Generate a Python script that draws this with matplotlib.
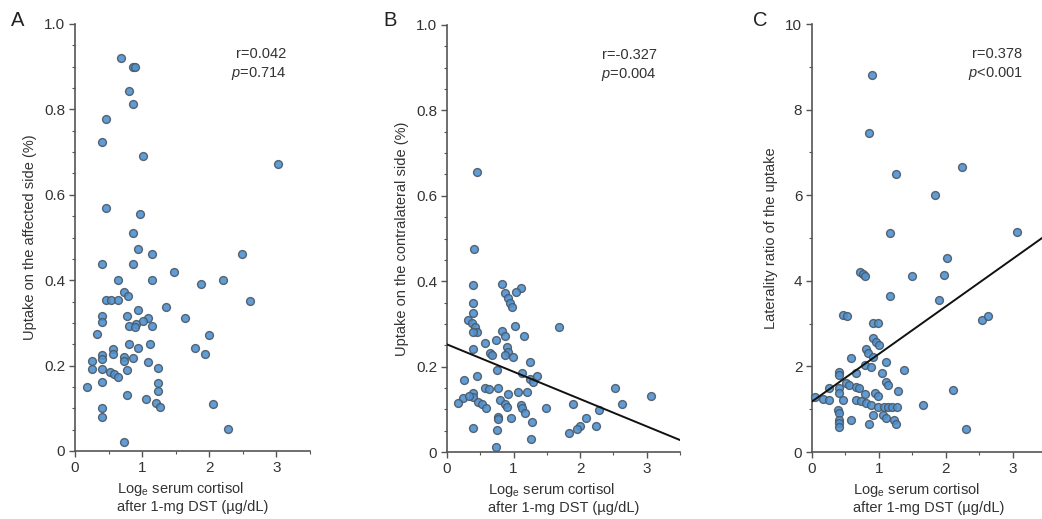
import numpy as np
import matplotlib
matplotlib.use('Agg')
import matplotlib.pyplot as plt
from matplotlib.ticker import MultipleLocator, FuncFormatter

plt.rcParams['font.family'] = ['Liberation Sans', 'DejaVu Sans']
plt.rcParams['mathtext.fontset'] = 'custom'
plt.rcParams['mathtext.it'] = 'Liberation Sans:italic'
plt.rcParams['mathtext.rm'] = 'Liberation Sans'

# ── 데이터 ─────────────────────────────────────────────
a_x = [0.68, 0.87, 0.90, 0.81, 0.87, 0.46, 0.40, 1.02, 3.02, 0.46, 0.97, 0.87, 0.94,
       1.15, 2.49, 0.40, 0.87, 1.47, 0.64, 1.15, 2.21, 1.87, 0.73, 0.79, 0.46, 0.54,
       0.64, 2.60, 1.35, 0.94, 0.40, 0.40, 0.78, 1.64, 1.08, 0.81, 0.91, 1.01, 1.15,
       0.89, 0.33, 2.00, 0.81, 0.57, 0.94, 1.11, 1.79, 1.94, 0.40, 0.40, 0.57, 0.73,
       0.73, 0.87, 1.08, 0.26, 0.26, 0.40, 0.52, 0.58, 0.64, 0.78, 1.23, 0.40, 1.23,
       0.18, 1.23, 0.78, 1.05, 1.21, 1.27, 2.06, 0.40, 0.40, 2.28, 0.73]
a_y = [0.920, 0.900, 0.900, 0.844, 0.813, 0.777, 0.724, 0.692, 0.673, 0.569, 0.556,
       0.511, 0.474, 0.461, 0.461, 0.438, 0.438, 0.420, 0.400, 0.400, 0.400, 0.390,
       0.373, 0.363, 0.354, 0.354, 0.354, 0.352, 0.338, 0.330, 0.316, 0.303, 0.315,
       0.311, 0.311, 0.293, 0.297, 0.305, 0.293, 0.290, 0.274, 0.272, 0.250, 0.240,
       0.242, 0.250, 0.242, 0.226, 0.225, 0.215, 0.227, 0.220, 0.210, 0.218, 0.209,
       0.210, 0.192, 0.192, 0.186, 0.180, 0.174, 0.190, 0.195, 0.162, 0.160, 0.150,
       0.140, 0.130, 0.121, 0.112, 0.102, 0.111, 0.100, 0.080, 0.051, 0.020]

b_x = [0.45, 0.40, 0.395, 0.83, 1.11, 1.04, 0.87, 0.92, 0.945, 0.97, 0.395, 0.395,
       0.32, 0.37, 0.42, 0.445, 0.395, 1.02, 0.83, 0.87, 1.15, 1.68, 0.57, 0.735,
       0.395, 0.895, 0.92, 0.645, 0.67, 0.87, 0.995, 1.245, 0.745, 0.26, 0.455, 1.12,
       1.245, 1.295, 1.345, 0.57, 0.635, 0.77, 0.92, 1.06, 1.195, 0.395, 0.395, 0.245,
       0.33, 0.17, 0.47, 0.52, 0.58, 0.795, 0.87, 0.895, 1.11, 1.13, 1.17, 1.485,
       0.77, 0.77, 0.96, 1.28, 0.395, 0.745, 1.26, 0.73, 1.89, 2.53, 2.63, 3.07,
       2.29, 2.09, 2.00, 1.95, 2.24, 1.83]
b_y = [0.656, 0.475, 0.391, 0.393, 0.383, 0.375, 0.372, 0.360, 0.348, 0.340, 0.350,
       0.325, 0.309, 0.303, 0.293, 0.282, 0.282, 0.295, 0.283, 0.272, 0.272, 0.292,
       0.255, 0.262, 0.241, 0.245, 0.235, 0.233, 0.227, 0.227, 0.222, 0.211, 0.192,
       0.169, 0.179, 0.184, 0.172, 0.165, 0.178, 0.149, 0.148, 0.149, 0.135, 0.141,
       0.141, 0.139, 0.129, 0.126, 0.130, 0.114, 0.118, 0.112, 0.104, 0.122, 0.112,
       0.106, 0.110, 0.102, 0.091, 0.102, 0.083, 0.077, 0.080, 0.070, 0.057, 0.052,
       0.030, 0.012, 0.113, 0.150, 0.112, 0.131, 0.098, 0.079, 0.060, 0.055, 0.062,
       0.044]

c_x = [0.89, 0.85, 1.26, 2.24, 1.84, 1.17, 3.06, 2.02, 0.72, 0.77, 0.80, 1.49, 1.97,
       1.17, 1.90, 0.47, 0.53, 2.54, 2.63, 0.91, 0.985, 0.91, 0.96, 1.00, 0.81, 0.84,
       0.91, 0.59, 1.11, 0.79, 0.885, 1.37, 0.41, 0.41, 0.66, 1.045, 0.51, 0.56, 0.66,
       0.71, 1.11, 1.13, 0.26, 0.41, 0.41, 0.80, 0.935, 0.985, 1.28, 0.04, 0.16, 0.26,
       0.46, 0.66, 0.74, 0.81, 0.885, 0.99, 1.07, 1.14, 1.19, 1.27, 0.39, 0.41, 0.91,
       1.06, 1.11, 0.41, 0.41, 0.41, 0.59, 0.85, 1.23, 1.26, 2.31, 1.66, 2.11]
c_y = [8.81, 7.46, 6.50, 6.67, 6.00, 5.11, 5.15, 4.54, 4.21, 4.16, 4.11, 4.11, 4.14,
       3.64, 3.55, 3.20, 3.18, 3.08, 3.18, 3.01, 3.01, 2.66, 2.58, 2.50, 2.40, 2.31,
       2.23, 2.19, 2.11, 2.03, 1.99, 1.92, 1.88, 1.80, 1.85, 1.85, 1.62, 1.57, 1.53,
       1.49, 1.64, 1.57, 1.49, 1.49, 1.37, 1.36, 1.37, 1.31, 1.43, 1.29, 1.25, 1.21,
       1.21, 1.21, 1.18, 1.14, 1.10, 1.05, 1.06, 1.04, 1.06, 1.05, 0.98, 0.90, 0.86,
       0.86, 0.79, 0.75, 0.67, 0.59, 0.75, 0.65, 0.75, 0.65, 0.53, 1.09, 1.45]

# 회귀선 (절편, 기울기) — 그림에서 읽음
b_fit = (0.252, -0.064)
c_fit = (1.18, 1.11)

stats = [("r=0.042", "$\\it{p}$=0.714"),
         ("r=-0.327", "$\\it{p}$=0.004"),
         ("r=0.378", "$\\it{p}$<0.001")]
ylabels = ["Uptake on the affected side (%)",
           "Uptake on the contralateral side (%)",
           "Laterality ratio of the uptake"]
letters = ["A", "B", "C"]
xlabel = "Log$_{\\rm e}$ serum cortisol\nafter 1-mg DST (\u00b5g/dL)"

# ── 차트 ─────────────────────────────────────────────────────
W, H = 1042, 519
fig = plt.figure(figsize=(W / 100, H / 100), dpi=100)

boxes = [(75, 310, 24, 451), (447, 680, 25, 452), (812, 1046, 24, 452)]
axes = [fig.add_axes([l / W, 1 - b / H, (r - l) / W, (b - t) / H]) for l, r, t, b in boxes]

panels = [(a_x, a_y, None, 1.0), (b_x, b_y, b_fit, 1.0), (c_x, c_y, c_fit, 10.0)]
gray = '#333333'

for i, (ax, (xs, ys, fit, ymax)) in enumerate(zip(axes, panels)):
    ax.scatter(xs, ys, s=32, facecolor='#4f92d2', edgecolor='#4c5864',
               linewidth=1.0, alpha=0.9, zorder=3, clip_on=False)
    if fit is not None:
        xx = np.array([0, 3.5])
        ax.plot(xx, fit[0] + fit[1] * xx, color='#111111', linewidth=1.4, zorder=4)
    ax.set_xlim(0, 3.5)
    ax.set_ylim(0, ymax)
    for s in ['top', 'right']:
        ax.spines[s].set_visible(False)
    for s in ['left', 'bottom']:
        ax.spines[s].set_color('#555555')
        ax.spines[s].set_linewidth(1.2)
    ax.xaxis.set_major_locator(MultipleLocator(1))
    ax.xaxis.set_minor_locator(MultipleLocator(0.5))
    if ymax == 1.0:
        ax.yaxis.set_major_locator(MultipleLocator(0.2))
        ax.yaxis.set_minor_locator(MultipleLocator(0.05))
        ax.yaxis.set_major_formatter(FuncFormatter(lambda v, p: "0" if v == 0 else f"{v:.1f}"))
    else:
        ax.yaxis.set_major_locator(MultipleLocator(2))
        ax.yaxis.set_minor_locator(MultipleLocator(1))
    ax.tick_params(which='major', length=4, width=1.0, color='#555555',
                   labelsize=11, labelcolor=gray, pad=3)
    ax.tick_params(which='minor', length=2.5, width=0.8, color='#555555')
    ax.set_xlabel(xlabel, fontsize=10.5, color=gray, multialignment='left', labelpad=4)
    ax.set_ylabel(ylabels[i], fontsize=10.5, color=gray, labelpad=5)
    ax.text(0.90, 0.93, stats[i][0], transform=ax.transAxes, ha='right', va='center',
            fontsize=10.5, color=gray)
    ax.text(0.90, 0.885, stats[i][1], transform=ax.transAxes, ha='right', va='center',
            fontsize=10.5, color=gray)

letter_pos = [(18, 21), (390, 21), (760, 21)]
for (px, py), lt in zip(letter_pos, letters):
    fig.text(px / W, 1 - py / H, lt, fontsize=14.5, color='#222222', ha='center', va='center')

plt.savefig("out.png", dpi=100)
